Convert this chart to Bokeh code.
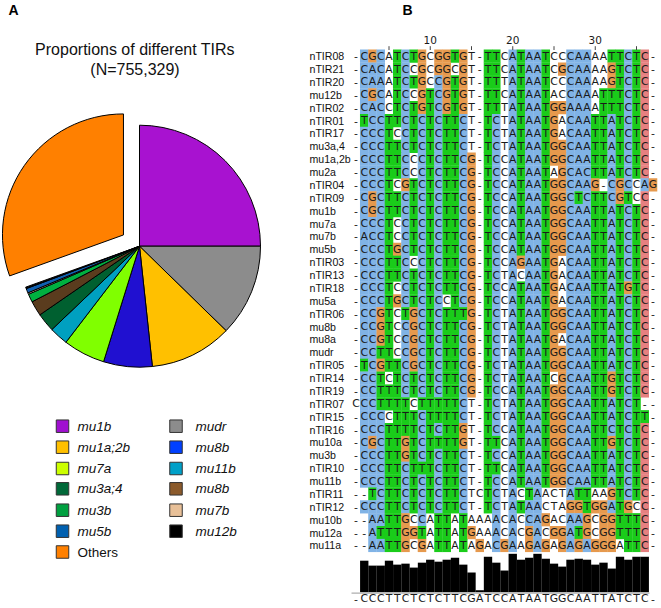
import math
from bokeh.plotting import figure
from bokeh.models import ColumnDataSource, Range1d
from bokeh.core.properties import value
from bokeh.embed import file_html
from bokeh.resources import INLINE

# ---------------- Panel A data ----------------
pie_labels = ["mu1b", "mudr", "mu1a;2b", "mu8b", "mu7a", "mu11b", "mu3a;4",
              "mu8b", "mu3b", "mu7b", "mu5b", "mu12b", "Others"]
pie_percent = [25.0, 12.3, 11.0, 6.5, 5.6, 2.5, 2.5, 2.0, 1.1, 0.2, 0.6, 0.2, 30.5]
pie_colors = ["#a812d0", "#8c8c8c", "#ffc000", "#2010d0", "#80ff00", "#00a0c0",
              "#006030", "#5a3c1e", "#00b040", "#e0c0a0", "#1060b0", "#000000", "#ff8000"]
pie_title = ["Proportions of different TIRs", "(N=755,329)"]

legend_left = ["mu1b", "mu1a;2b", "mu7a", "mu3a;4", "mu3b", "mu5b", "Others"]
legend_left_colors = ["#a010d0", "#ffc000", "#ccff00", "#006838", "#00a040", "#0060b0", "#ff8000"]
legend_right = ["mudr", "mu8b", "mu11b", "mu8b", "mu7b", "mu12b"]
legend_right_colors = ["#8c8c8c", "#0040ff", "#00a0c8", "#8b5a2b", "#e8c098", "#000000"]

# ---------------- Panel B data ----------------
seq_names = ["nTIR08", "nTIR21", "nTIR20", "mu12b", "nTIR02", "nTIR01", "nTIR17",
             "mu3a,4", "mu1a,2b", "mu2a", "nTIR04", "nTIR09", "mu1b", "mu7a", "mu7b",
             "mu5b", "nTIR03", "nTIR13", "nTIR18", "mu5a", "nTIR06", "mu8b", "mu8a",
             "mudr", "nTIR05", "nTIR14", "nTIR19", "nTIR07", "nTIR15", "nTIR16",
             "mu10a", "mu3b", "nTIR10", "mu11b", "nTIR11", "nTIR12", "mu10b", "mu12a", "mu11a"]
seqs = [
    "-CGCATCTGCGGTGT-TTCATAATCCCAAAATTCTC-",
    "-CACATCCGCGGCGT-TTCATAATCGCAAAAGTCTC-",
    "-CAAATCTGCCGTGT-TTTATAATCCCAAAAGTCTC-",
    "-CGCATCCGTCGTGT-TTCATAATACCAAATTTCTC-",
    "-CACCTCTGTCGTGT-TTTATAATGGAAAATTTCTC-",
    "-TCCTTCTCTCTTCT-TCTATAATGACAATTATCTC-",
    "-CCCTCCTCTCTTCT-TCTATAATGACAATTATCTC-",
    "-CCCTTCTCTCTTCT-TCTATAATGGCAATTATCTC-",
    "-CCCTTCCCTCTTCG-TCCATAATGGCAATTATCTC-",
    "-CCCTTCCCTCTTCG-TCCATAATAGCACTTATCTC-",
    "-CCCTCGTCTCTTCG-TCCATAATGGCAAG-CGCCAG",
    "-CGCTTCTCTCTTCG-TCCATAATGGCTCTTCGTCC-",
    "-CGCTTCTCTCTTCG-TCCATAATGGCAATTATCTC-",
    "-CCCTCCTCTCTTCG-TCCATAATGGCAATTATCTC-",
    "-ACCTCCTCTCTTCG-TCCATAATGGCAATTATCTC-",
    "-CCCTGCTCTCTTCG-TCCATAATGGCAATTATCTC-",
    "-CCCTTCCCTCTTCG-TCCAGAATGACAATTATCTC-",
    "-CCCTTCTCTCTTCG-TCTACAATGACAATTATCTC-",
    "-CCCTCCTCTCTTCG-TCCATAATGACAATTATGTC-",
    "-CCCTGCTCTCCTCG-TCCATAATGACAATTATCTC-",
    "-CCGTCTGCTCTTTG-TCTATAATGGCAATTATCTC-",
    "-CCGTCCGCTCTTCG-TCTATAATGGCAATTATCTC-",
    "-CCGTCCGCTCTTCG-TCTATAATGACAATTATCTC-",
    "-CCTTCCGCTCTTCG-TCTATAATGGCAATTATCTC-",
    "-TCGTTCGCTCTTCG-TCTATAATGGCAATTATCTC-",
    "-CCTCTCTCTCTTCG-TCTATAATCGCAATTGTCTC-",
    "-CCTTTCTCTCTTCG-TCCATAATGGCAATTGTCTC-",
    "CCCTTTTCTTTTTCT-TCTATAATGGCAATTATCT--",
    "-CCCCTTTCTTTTCT-TCTATAATGGCAATTATCTT-",
    "-CCCTTTTCTCTTGT-TCCATAATGGCAATTCTCTC-",
    "-CGCTTGTCTTTTGT-TTCATAATGGCAATTGTCTC-",
    "-CCCTTGTCTCTTCT-TCCATAATGGCAATTATCTC-",
    "-CCCTTCTTTCTTCT-TTCATAATGGCAATTATCTC-",
    "-CCCTTCTCTCTTCT-TCCATAATGGCAATTATCTC-",
    "--TCTTCTCTCTTCTCTCTACTAACTATTAAGTCTC-",
    "-CCCTTCTCTCTTCT-TCTATAACTAGGTGGATGCC-",
    "--AATTGCCATTATAAAACACCAGACAAGCGGTTTC-",
    "--ATTTGGTATTATGAAACACGACGGATGCGGTTTC-",
    "--AATTGCGATTATAGACGAAGAGAGAGAGGGATTC-",
]
consensus = "-CCCTTCTCTCTTCGATCCATAATGGCAATTATCTC-"
ruler_ticks = [5, 10, 15, 20, 25, 30, 35]
ruler_labels = ["10", "20", "30"]

# ---------------- layout (reference pixel space) ----------------
def Y(v):
    return 608.0 - v

X0, CW = 356.5, 8.25          # centre of column 1, column width
ROW0, RH = 56.7, 12.876        # centre of first row, row height
NCOL = len(consensus)
NSEQ = len(seqs)

BLUE, GREEN, ORANGE, PINK = "#80b3e6", "#1acc1a", "#e6994d", "#e68080"

p = figure(width=659, height=606, x_range=Range1d(1, 660), y_range=Range1d(1, 607),
           x_axis_type=None, y_axis_type=None, toolbar_location=None,
           output_backend="svg", min_border=0)
p.outline_line_color = None
p.grid.visible = False

SANS = value("Liberation Sans")
MONO = value("DejaVu Sans")

# ---------------- Panel A: pie ----------------
cx, cy, R = 140.0, Y(246.7), 121.0
starts, ends = [], []
a = math.pi / 2
for pct in pie_percent:
    starts.append(a)
    a -= 2 * math.pi * pct / 100.0
    ends.append(a)
xs, ys = [], []
for k in range(len(pie_percent)):
    if pie_labels[k] == "Others":
        mid = (starts[k] + ends[k]) / 2
        xs.append(cx + 19.6 * math.cos(mid))
        ys.append(cy + 19.6 * math.sin(mid))
    else:
        xs.append(cx)
        ys.append(cy)
pie_src = ColumnDataSource(dict(x=xs, y=ys, s=starts, e=ends, c=pie_colors))
p.wedge(x="x", y="y", radius=R, start_angle="s", end_angle="e", direction="clock",
        fill_color="c", line_color="black", line_width=1, source=pie_src)

p.text(x=[135.5, 135.5], y=[Y(50), Y(70)], text=pie_title, text_font=SANS,
       text_font_size="16px", text_align="center", text_baseline="middle",
       text_color="#111111")
p.text(x=[14, 408], y=[Y(10), Y(10)], text=["A", "B"], text_font=SANS,
       text_font_size="14px", text_font_style="bold", text_align="center",
       text_baseline="middle", text_color="black")

# legend
LEG_Y = [426.7, 447.7, 469.0, 489.3, 510.7, 531.7, 552.5]
lx = [63.0] * len(legend_left) + [176.5] * len(legend_right)
ly = [Y(v) for v in LEG_Y[:len(legend_left)]] + [Y(v) for v in LEG_Y[:len(legend_right)]]
p.rect(x=lx, y=ly, width=12.5, height=12.5,
       fill_color=legend_left_colors + legend_right_colors, line_color="#333333", line_width=1)
names_it = legend_left[:-1] + legend_right
nx = [78.0] * (len(legend_left) - 1) + [196.0] * len(legend_right)
ny = [Y(v) for v in LEG_Y[:len(legend_left) - 1]] + [Y(v) for v in LEG_Y[:len(legend_right)]]
p.text(x=nx, y=ny, text=names_it, text_font=SANS, text_font_size="13.5px",
       text_font_style="italic", text_align="left", text_baseline="middle", text_color="#111111")
p.text(x=[78.0], y=[Y(LEG_Y[len(legend_left) - 1])], text=[legend_left[-1]], text_font=SANS,
       text_font_size="13.5px", text_align="left", text_baseline="middle", text_color="#111111")

# ---------------- Panel B: alignment ----------------
col_stats = []
for j in range(NCOL):
    column = [s[j] for s in seqs]
    hyd = sum(ch in "AC" for ch in column) / NSEQ
    tfr = column.count("T") / NSEQ
    cfr = column.count("C") / NSEQ
    col_stats.append((hyd, tfr, cfr))

def colour(ch, j):
    hyd, tfr, cfr = col_stats[j]
    if ch == "G":
        return ORANGE
    if ch == "A":
        return BLUE if hyd > 0.6 else None
    if ch == "C":
        if cfr > 0.85:
            return PINK
        return BLUE if hyd > 0.6 else None
    if ch == "T":
        return GREEN if (hyd > 0.6 or tfr > 0.5) else None
    return None

cxs, cys, ccs = [], [], []
txs, tys, tts = [], [], []
for i, s in enumerate(seqs):
    yy = Y(ROW0 + i * RH)
    for j, ch in enumerate(s):
        xx = X0 + j * CW
        txs.append(xx); tys.append(yy); tts.append(ch)
        c = colour(ch, j)
        if c:
            cxs.append(xx); cys.append(yy); ccs.append(c)
p.rect(x=cxs, y=cys, width=CW + 0.3, height=RH + 0.3, fill_color=ccs, line_color=None)
p.text(x=txs, y=tys, text=tts, text_font=MONO, text_font_size="10.8px",
       text_align="center", text_baseline="middle", text_color="#1a1a1a")

# sequence names
p.text(x=[310.0] * NSEQ, y=[Y(ROW0 + i * RH) for i in range(NSEQ)], text=seq_names,
       text_font=SANS, text_font_size="10.6px", text_align="left", text_baseline="middle",
       text_color="#111111")

# ruler
tx = [X0 + (t - 1) * CW for t in ruler_ticks]
p.segment(x0=tx, y0=[Y(46.7)] * len(tx), x1=tx, y1=[Y(50.5)] * len(tx),
          line_color="#444444", line_width=1)
lab_x = [X0 + (int(t) - 1) * CW for t in ruler_labels]
p.text(x=lab_x, y=[Y(40)] * len(lab_x), text=ruler_labels, text_font=MONO,
       text_font_size="10.5px", text_align="center", text_baseline="middle", text_color="#1a1a1a")

# consensus histogram
BASE, FULL = 592.7, 38.4
bx, btop = [], []
for j, ch in enumerate(consensus):
    if ch == "-":
        continue
    frac = sum(s[j] == ch for s in seqs) / NSEQ
    bx.append(X0 + j * CW)
    btop.append(Y(BASE) + frac * FULL)
p.vbar(x=bx, top=btop, bottom=Y(BASE), width=CW + 0.1, fill_color="black", line_color=None)
p.segment(x0=[352.0], y0=[Y(593.6)], x1=[650.0], y1=[Y(593.6)], line_color="#999999", line_width=1)

# consensus sequence
p.text(x=[X0 + j * CW for j in range(NCOL)], y=[Y(599.0)] * NCOL, text=list(consensus),
       text_font=MONO, text_font_size="10.8px", text_align="center",
       text_baseline="middle", text_color="#1a1a1a")

open("out.html", "w").write(file_html(p, INLINE))
